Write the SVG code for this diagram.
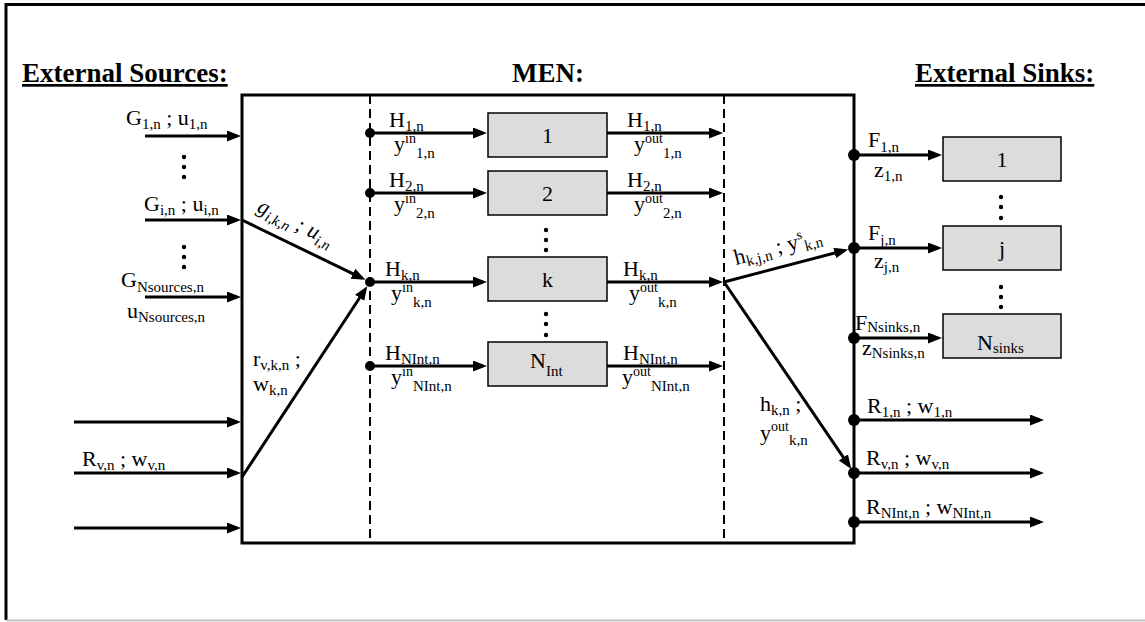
<svg xmlns="http://www.w3.org/2000/svg" width="1145" height="622" viewBox="0 0 1145 622">
<style>
text{font-family:"Liberation Serif","Times New Roman",serif;font-size:22px;fill:#000}
.title{font-weight:bold;font-size:27px}
.u{text-decoration:underline}
.s{font-size:15px}
.p{font-size:14px}
.box{fill:#dcdcdc;stroke:#000;stroke-width:1.5}
.ar{stroke:#000;stroke-width:3;fill:none;marker-end:url(#ah)}
.dash{stroke:#000;stroke-width:2;stroke-dasharray:9,5;fill:none}
.dot{fill:#000}
.c{text-anchor:middle}
</style>
<defs>
<marker id="ah" markerUnits="userSpaceOnUse" markerWidth="14" markerHeight="12" refX="10" refY="5.5" orient="auto">
<path d="M0,0 L14,5.5 L0,11 z" fill="#000"/>
</marker>
</defs>
<rect width="1145" height="622" fill="#fff"/>
<g id="frame">
<line x1="5" y1="4.5" x2="1145" y2="4.5" stroke="#000" stroke-width="3"/>
<line x1="6" y1="3" x2="6" y2="620" stroke="#000" stroke-width="3"/>
<line x1="6" y1="620.5" x2="1145" y2="620.5" stroke="#c4c4c4" stroke-width="2"/>
</g>
<g id="titles">
<text x="22" y="82" class="title u">External Sources:</text>
<text x="548" y="82" class="title c">MEN:</text>
<text x="915" y="82" class="title u">External Sinks:</text>
</g>
<g id="men">
<rect x="242" y="95" width="612" height="448" fill="none" stroke="#000" stroke-width="3"/>
<line class="dash" x1="370" y1="95" x2="370" y2="543"/>
<line class="dash" x1="724" y1="95" x2="724" y2="543"/>
</g>
<g id="node-int-1"><rect class="box" x="488" y="113" width="119" height="44"/><text x="547.5" y="143" class="c">1</text></g>
<g id="node-int-2"><rect class="box" x="488" y="171" width="119" height="44"/><text x="547.5" y="201" class="c">2</text></g>
<g id="node-int-k"><rect class="box" x="488" y="257" width="119" height="44"/><text x="547.5" y="287" class="c">k</text></g>
<g id="node-int-N"><rect class="box" x="488" y="342" width="119" height="44"/><text x="530" y="368">N<tspan class="s" dy="8">Int</tspan></text></g>
<g id="node-sink-1"><rect class="box" x="943" y="137" width="118" height="44"/><text x="1002" y="167" class="c">1</text></g>
<g id="node-sink-j"><rect class="box" x="943" y="226" width="118" height="44"/><text x="1002" y="256" class="c">j</text></g>
<g id="node-sink-N"><rect class="box" x="943" y="314" width="118" height="44"/><text x="977" y="350">N<tspan class="s" dy="3">sinks</tspan></text></g>
<g id="ellipses" class="dot">
<circle cx="184" cy="157" r="2.2"/><circle cx="184" cy="167" r="2.2"/><circle cx="184" cy="177" r="2.2"/>
<circle cx="184" cy="247" r="2.2"/><circle cx="184" cy="257" r="2.2"/><circle cx="184" cy="267" r="2.2"/>
<circle cx="546" cy="230" r="2.2"/><circle cx="546" cy="240" r="2.2"/><circle cx="546" cy="250" r="2.2"/>
<circle cx="546" cy="314" r="2.2"/><circle cx="546" cy="324" r="2.2"/><circle cx="546" cy="335" r="2.2"/>
<circle cx="1001" cy="197" r="2.2"/><circle cx="1001" cy="207" r="2.2"/><circle cx="1001" cy="218" r="2.2"/>
<circle cx="1001" cy="287" r="2.2"/><circle cx="1001" cy="297" r="2.2"/><circle cx="1001" cy="307" r="2.2"/>
</g>
<g id="connectors">
<line class="ar" x1="145" y1="136" x2="237" y2="136"/>
<line class="ar" x1="145" y1="220" x2="237" y2="220"/>
<line class="ar" x1="145" y1="297" x2="237" y2="297"/>
<line class="ar" x1="74" y1="422" x2="237" y2="422"/>
<line class="ar" x1="74" y1="473" x2="237" y2="473"/>
<line class="ar" x1="74" y1="528" x2="237" y2="528"/>
<line class="ar" x1="242" y1="220" x2="361.9" y2="278.1"/>
<line class="ar" x1="242" y1="477" x2="365.1" y2="289.5"/>
<line class="ar" x1="370" y1="133" x2="483" y2="133"/>
<line class="ar" x1="370" y1="193" x2="483" y2="193"/>
<line class="ar" x1="370" y1="282" x2="483" y2="282"/>
<line class="ar" x1="370" y1="366" x2="483" y2="366"/>
<line class="ar" x1="607" y1="133" x2="719" y2="133"/>
<line class="ar" x1="607" y1="193" x2="719" y2="193"/>
<line class="ar" x1="607" y1="282" x2="719" y2="282"/>
<line class="ar" x1="607" y1="366" x2="719" y2="366"/>
<line class="ar" x1="724" y1="282" x2="844.3" y2="250.5"/>
<line class="ar" x1="724" y1="282" x2="849" y2="465.6"/>
<line class="ar" x1="854" y1="155" x2="938" y2="155"/>
<line class="ar" x1="854" y1="248" x2="938" y2="248"/>
<line class="ar" x1="854" y1="338" x2="938" y2="338"/>
<line class="ar" x1="854" y1="420" x2="1040" y2="420"/>
<line class="ar" x1="854" y1="473" x2="1040" y2="473"/>
<line class="ar" x1="854" y1="522" x2="1040" y2="522"/>
<g class="dot">
<circle cx="370" cy="133" r="5"/><circle cx="370" cy="193" r="5"/><circle cx="370" cy="282" r="5"/><circle cx="370" cy="366" r="5"/>
<circle cx="854" cy="155" r="6"/><circle cx="854" cy="248" r="6"/><circle cx="854" cy="338" r="6"/>
<circle cx="854" cy="420" r="6"/><circle cx="854" cy="473" r="6"/><circle cx="854" cy="522" r="6"/>
</g>
</g>
<g id="labels">
<text x="126" y="125">G<tspan class="s" dy="4">1,n</tspan><tspan dy="-4"> ; u</tspan><tspan class="s" dy="4">1,n</tspan></text>
<text x="144" y="211">G<tspan class="s" dy="4">i,n</tspan><tspan dy="-4"> ; u</tspan><tspan class="s" dy="4">i,n</tspan></text>
<text x="121" y="287">G<tspan class="s" dy="5">Nsources,n</tspan></text>
<text x="127" y="318">u<tspan class="s" dy="4">Nsources,n</tspan></text>
<text x="82" y="466">R<tspan class="s" dy="4">v,n</tspan><tspan dy="-4"> ; w</tspan><tspan class="s" dy="4">v,n</tspan></text>
<text x="253" y="366">r<tspan class="s" dy="4">v,k,n</tspan><tspan dy="-4"> ;</tspan></text>
<text x="253" y="391">w<tspan class="s" dy="4">k,n</tspan></text>
<text transform="translate(256,211) rotate(25.8)" font-style="italic" font-size="23">g<tspan class="s" dy="5">i,k,n</tspan><tspan dy="-5"> ; u</tspan><tspan class="s" dy="5">i,n</tspan></text>

<text x="389" y="127">H<tspan class="s" dy="4">1,n</tspan></text>
<text x="394" y="151">y<tspan class="p" dy="-8">in</tspan><tspan class="s" dy="15">1,n</tspan></text>
<text x="389" y="187">H<tspan class="s" dy="4">2,n</tspan></text>
<text x="394" y="211">y<tspan class="p" dy="-8">in</tspan><tspan class="s" dy="15">2,n</tspan></text>
<text x="385" y="276">H<tspan class="s" dy="4">k,n</tspan></text>
<text x="391" y="300">y<tspan class="p" dy="-8">in</tspan><tspan class="s" dy="15">k,n</tspan></text>
<text x="385" y="360">H<tspan class="s" dy="4">NInt,n</tspan></text>
<text x="391" y="384">y<tspan class="p" dy="-8">in</tspan><tspan class="s" dy="15">NInt,n</tspan></text>

<text x="627" y="127">H<tspan class="s" dy="4">1,n</tspan></text>
<text x="634" y="151">y<tspan class="p" dy="-8">out</tspan><tspan class="s" dy="15">1,n</tspan></text>
<text x="627" y="187">H<tspan class="s" dy="4">2,n</tspan></text>
<text x="634" y="211">y<tspan class="p" dy="-8">out</tspan><tspan class="s" dy="15">2,n</tspan></text>
<text x="623" y="276">H<tspan class="s" dy="4">k,n</tspan></text>
<text x="629" y="300">y<tspan class="p" dy="-8">out</tspan><tspan class="s" dy="15">k,n</tspan></text>
<text x="623" y="360">H<tspan class="s" dy="4">NInt,n</tspan></text>
<text x="622" y="384">y<tspan class="p" dy="-8">out</tspan><tspan class="s" dy="15">NInt,n</tspan></text>

<text transform="translate(736,265) rotate(-14.6)">h<tspan class="s" dy="4">k,j,n</tspan><tspan dy="-4"> ; y</tspan><tspan class="p" dy="-9">s</tspan><tspan class="s" dy="13">k,n</tspan></text>
<text x="760" y="411">h<tspan class="s" dy="4">k,n</tspan><tspan dy="-4"> ;</tspan></text>
<text x="760" y="440">y<tspan class="p" dy="-9">out</tspan><tspan class="s" dy="14">k,n</tspan></text>

<text x="868" y="147">F<tspan class="s" dy="5">1,n</tspan></text>
<text x="874" y="177">z<tspan class="s" dy="4">1,n</tspan></text>
<text x="868" y="240">F<tspan class="s" dy="5">j,n</tspan></text>
<text x="874" y="268">z<tspan class="s" dy="4">j,n</tspan></text>
<text x="855" y="330">F<tspan class="s" dy="2">Nsinks,n</tspan></text>
<text x="862" y="355">z<tspan class="s" dy="3">Nsinks,n</tspan></text>

<text x="867" y="413">R<tspan class="s" dy="4">1,n</tspan><tspan dy="-4"> ; w</tspan><tspan class="s" dy="4">1,n</tspan></text>
<text x="866" y="465">R<tspan class="s" dy="4">v,n</tspan><tspan dy="-4"> ; w</tspan><tspan class="s" dy="4">v,n</tspan></text>
<text x="866" y="514">R<tspan class="s" dy="4">NInt,n</tspan><tspan dy="-4"> ; w</tspan><tspan class="s" dy="4">NInt,n</tspan></text>
</g>
</svg>
